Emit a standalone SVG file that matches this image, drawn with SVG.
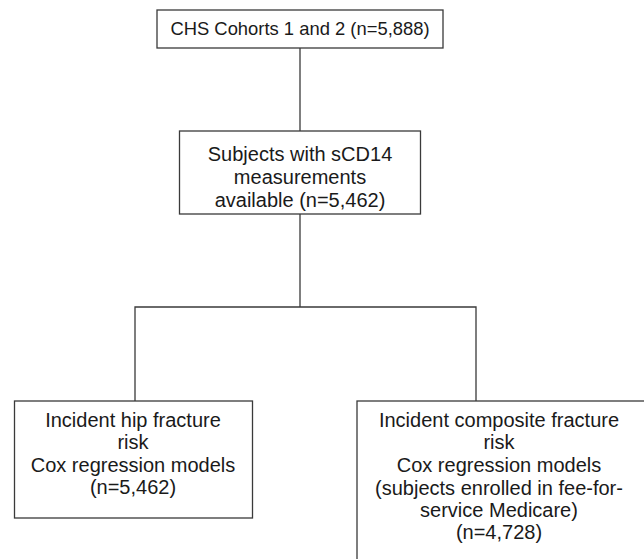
<svg xmlns="http://www.w3.org/2000/svg" width="644" height="559" viewBox="0 0 644 559">
<style>
.box{fill:#fff;stroke:#3a3a3a;stroke-width:1.3}
.ln{fill:none;stroke:#3a3a3a;stroke-width:1.3}
text{font-family:"Liberation Sans",Arial,sans-serif;fill:#1a1a1a;text-anchor:middle}
.t1{font-size:18.4px}
.t2{font-size:20px}
</style>
<rect width="644" height="559" fill="#fff"/>
<g id="connectors">
<line class="ln" x1="300" y1="48" x2="300" y2="131"/>
<line class="ln" x1="300" y1="214" x2="300" y2="307"/>
<polyline class="ln" points="135,401 135,307 476,307 476,401"/>
</g>
<g id="node-cohorts">
<rect class="box" x="157" y="10" width="286" height="38"/>
<text class="t1" x="300" y="35">CHS Cohorts 1 and 2 (n=5,888)</text>
</g>
<g id="node-scd14">
<rect class="box" x="179.5" y="131" width="241" height="83"/>
<text class="t2" x="300" y="161">Subjects with sCD14</text>
<text class="t2" x="300" y="184">measurements</text>
<text class="t2" x="300" y="207">available (n=5,462)</text>
</g>
<g id="node-hip">
<rect class="box" x="14.5" y="401" width="238" height="117"/>
<text class="t2" x="133" y="427">Incident hip fracture</text>
<text class="t2" x="133" y="449">risk</text>
<text class="t2" x="133" y="472">Cox regression models</text>
<text class="t2" x="133" y="494">(n=5,462)</text>
</g>
<g id="node-composite">
<rect class="box" x="357" y="401" width="300" height="170"/>
<text class="t2" x="499" y="427">Incident composite fracture</text>
<text class="t2" x="499" y="449">risk</text>
<text class="t2" x="499" y="472">Cox regression models</text>
<text class="t2" x="499" y="495">(subjects enrolled in fee-for-</text>
<text class="t2" x="499" y="517">service Medicare)</text>
<text class="t2" x="499" y="539">(n=4,728)</text>
</g>
</svg>
